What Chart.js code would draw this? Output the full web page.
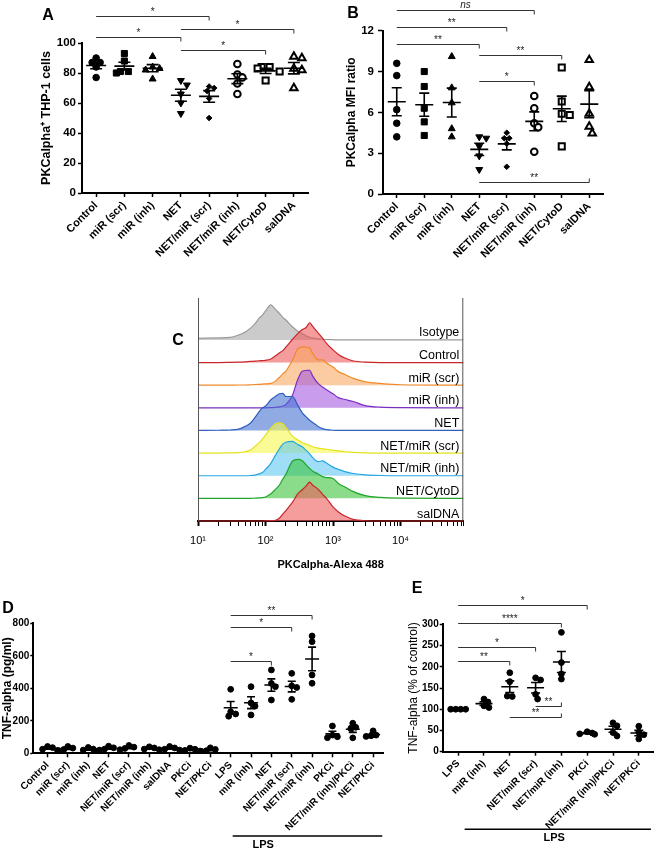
<!DOCTYPE html>
<html>
<head>
<meta charset="utf-8">
<script src="https://cdn.jsdelivr.net/npm/chart.js@4.4.1/dist/chart.umd.min.js"></script>
<style>
    body { margin: 0; background: #fff; }
    #fig { position: relative; width: 658px; height: 848px; overflow: hidden; font-family: 'Liberation Sans', Arial, sans-serif; }
    #fig canvas { position: absolute; }
    .tag { position: absolute; font-weight: bold; font-size: 16px; transform: translate(-50%, -50%); }
</style>
</head>
<body>
<div id="fig">
    <canvas id="chartA" width="320" height="280" style="left:0;top:0"></canvas>
    <canvas id="chartB" width="328" height="280" style="left:330px;top:0"></canvas>
    <canvas id="chartC" width="330" height="290" style="left:150px;top:290px"></canvas>
    <canvas id="chartD" width="400" height="258" style="left:0;top:590px"></canvas>
    <canvas id="chartE" width="253" height="258" style="left:405px;top:590px"></canvas>
    <div class="tag" style="left:48px;top:15px">A</div>
    <div class="tag" style="left:353px;top:13px">B</div>
    <div class="tag" style="left:178px;top:340px">C</div>
    <div class="tag" style="left:8px;top:608px">D</div>
    <div class="tag" style="left:417px;top:588px">E</div>
</div>
<script>
// ---- Panels A and B: PKCalpha in THP-1 cells ----
const abCats = ['Control', 'miR (scr)', 'miR (inh)', 'NET', 'NET/miR (scr)', 'NET/miR (inh)', 'NET/CytoD', 'salDNA'];
const aValues = [
    [90, 87, 87, 84, 77],
    [93, 88, 81, 80, 81],
    [91, 84, 83, 82, 76],
    [75, 72, 66, 60, 53],
    [71, 70, 68, 63, 50],
    [86, 79, 77, 73, 66],
    [84, 84, 83, 81, 75],
    [91, 90, 83, 82, 70]
];
const bValues = [
    [9.6, 8.7, 6.2, 5.2, 4.2],
    [9.0, 7.9, 6.3, 5.3, 4.3],
    [10.1, 7.8, 6.7, 4.8, 4.2],
    [4.2, 4.1, 3.5, 2.8, 1.8],
    [4.5, 4.1, 4.1, 3.7, 2.0],
    [7.2, 6.3, 5.2, 4.9, 3.1],
    [9.3, 6.8, 5.9, 5.8, 3.5],
    [9.85, 7.85, 5.9, 4.95, 4.46]
];
// significance brackets: [from, to, label, level]
const aBrackets = [[0, 4, '*', 118], [0, 3, '*', 103.8], [3, 7, '*', 109], [3, 6, '*', 95.1]];
const bBrackets = [[0, 5, 'ns', 13.53], [0, 4, '**', 12.26], [0, 3, '**', 11.0], [3, 6, '**', 10.22], [3, 5, '*', 8.33], [3, 7, '**', 0.9, 'up']];

// ---- Panel C: flow cytometry histograms ----
const histRows = ['Isotype', 'Control', 'miR (scr)', 'miR (inh)', 'NET', 'NET/miR (scr)', 'NET/miR (inh)', 'NET/CytoD', 'salDNA'];
const histX = [10, 20, 30, 40, 50, 60, 70, 80, 90, 100, 120, 140, 160, 180, 200, 250, 300, 350, 400, 450, 500, 600, 700, 800, 1000, 1200, 1500, 2000, 3000, 5000, 10000, 85000];
const histIsotype = [7, 9, 11, 22, 35, 52, 72, 95, 110, 128, 155, 135, 118, 100, 88, 58, 38, 28, 18, 12, 9, 5, 3, 2, 1, 0, 0, 0, 0, 0, 0, 0];
const histControl = [0, 0, 1, 2, 3, 5, 6, 8, 9, 10, 16, 30, 42, 53, 68, 102, 128, 146, 155, 175, 160, 131, 108, 85, 56, 36, 20, 7, 2, 0, 0, 0];
const histMirScr = [0, 0, 0, 1, 1, 2, 3, 4, 5, 6, 8, 18, 34, 50, 62, 110, 160, 169, 168, 164, 140, 112, 112, 98, 80, 60, 47, 30, 15, 8, 2, 0];
const histMirInh = [0, 0, 0, 0, 0, 0, 0, 0, 0, 0, 1, 2, 4, 8, 15, 55, 125, 162, 165, 166, 140, 108, 92, 80, 62, 45, 37, 28, 10, 3, 1, 0];
const histNet = [0, 1, 2, 6, 18, 33, 58, 82, 100, 108, 136, 150, 162, 164, 150, 150, 112, 78, 60, 45, 35, 18, 8, 4, 1, 0, 0, 0, 0, 0, 0, 0];
const histNetScr = [0, 0, 1, 2, 6, 14, 30, 45, 62, 80, 110, 130, 134, 130, 114, 75, 58, 46, 40, 34, 28, 22, 19, 17, 13, 10, 6, 3, 1, 0, 0, 0];
const histNetInh = [0, 0, 0, 0, 0, 1, 3, 8, 14, 28, 55, 90, 118, 140, 148, 152, 138, 128, 112, 97, 80, 62, 66, 56, 38, 28, 18, 10, 4, 1, 0, 0];
const histNetCyto = [0, 0, 0, 0, 0, 0, 1, 2, 3, 6, 20, 40, 58, 85, 106, 164, 172, 166, 148, 132, 120, 108, 96, 92, 88, 66, 50, 30, 12, 4, 1, 0];
const histSalDna = [0, 0, 0, 0, 0, 0, 0, 0, 0, 1, 2, 3, 12, 30, 46, 82, 120, 138, 155, 172, 158, 141, 118, 100, 62, 40, 22, 7, 1, 0, 0, 0];

// ---- Panel D: TNF-alpha pg/ml ----
const dCats = ['Control', 'miR (scr)', 'miR (inh)', 'NET', 'NET/miR (scr)', 'NET/miR (inh)', 'salDNA', 'PKCi', 'NET/PKCi',
    'LPS', 'miR (inh)', 'NET', 'NET/miR (scr)', 'NET/miR (inh)', 'PKCi', 'NET/miR (inh)/PKCi', 'NET/PKCi'];
const dValues = [
    [42, 35, 25, 18], [42, 32, 24, 16], [36, 26, 20, 15], [44, 34, 26, 20], [48, 38, 30, 22],
    [40, 33, 26, 22], [42, 33, 25, 20], [32, 25, 18, 14], [34, 24, 16, 12],
    [394, 256, 242, 228], [410, 310, 290, 236], [513, 430, 410, 328], [492, 415, 405, 332],
    [722, 687, 482, 431], [168, 112, 102, 96], [185, 160, 152, 95], [138, 112, 108, 104]
];
const dBrackets = [[9, 13, '**', 851], [9, 12, '*', 775], [9, 11, '*', 570]];

// ---- Panel E: TNF-alpha % of control ----
const eCats = ['LPS', 'miR (inh)', 'NET', 'NET/miR (scr)', 'NET/miR (inh)', 'PKCi', 'NET/miR (inh)/PKCi', 'NET/PKCi'];
const eValues = [
    [100, 100, 100, 100], [124, 117, 108, 104], [186, 165, 131, 130], [174, 169, 135, 124],
    [281, 210, 183, 171], [47, 44, 42, 41], [68, 61, 45, 37], [60, 46, 40, 30]
];
const eBrackets = [[0, 5, '*', 345], [0, 4, '****', 302.5], [0, 3, '*', 247], [0, 2, '**', 213.7], [3, 4, '**', 107.7, 'up'], [2, 4, '**', 82.5, 'up']];

const FONT = "'Liberation Sans', Arial, Helvetica, sans-serif";
Chart.defaults.font.family = FONT;
Chart.defaults.color = '#000';
Chart.defaults.animation = false;
Chart.defaults.events = [];
Chart.defaults.plugins.legend.display = false;
Chart.defaults.plugins.tooltip.enabled = false;

// Mean and standard error of one group
function statsOf(arr) {
    const n = arr.length;
    const mean = arr.reduce((a, b) => a + b, 0) / n;
    const sd = Math.sqrt(arr.reduce((a, b) => a + (b - mean) ** 2, 0) / (n - 1));
    return { mean, sem: sd / Math.sqrt(n) };
}

// Spread overlapping points sideways, like a scatter dot plot
const swarmPlugin = {
    id: 'swarm',
    afterDatasetsUpdate(chart) {
        chart.data.datasets.forEach((ds, di) => {
            const els = chart.getDatasetMeta(di).data.slice().sort((a, b) => a.y - b.y);
            const diam = 1.7 * ds.pointRadius;
            const placed = [];
            els.forEach(el => {
                const x0 = el.x;
                let off = 0;
                for (let k = 0; k < 80; k++) {
                    off = k === 0 ? 0 : (k % 2 ? 1 : -1) * Math.ceil(k / 2);
                    if (placed.every(p => Math.hypot(p.x - (x0 + off), p.y - el.y) >= diam)) break;
                }
                el.x = x0 + off;
                el._x0 = x0;
                placed.push(el);
            });
            // centre rows of tied values
            const used = new Set();
            placed.forEach(el => {
                if (used.has(el)) return;
                const row = placed.filter(p => Math.abs(p.y - el.y) < 0.5);
                row.forEach(p => used.add(p));
                if (row.length < 2) return;
                const shift = row.reduce((s, p) => s + (p.x - p._x0), 0) / row.length;
                row.forEach(p => { p.x -= shift; });
            });
        });
    }
};

function meanSemPlugin(meanHalf, capHalf) {
    return {
        id: 'meanSem',
        afterDatasetsDraw(chart) {
            const { ctx, scales: { x, y } } = chart;
            ctx.save();
            ctx.strokeStyle = '#000';
            ctx.lineWidth = 1.6;
            chart.data.datasets.forEach(ds => {
                const { mean, sem } = statsOf(ds.data.map(p => p.y));
                const cx = x.getPixelForValue(ds.data[0].x);
                const ym = y.getPixelForValue(mean);
                const yt = y.getPixelForValue(mean + sem);
                const yb = y.getPixelForValue(mean - sem);
                ctx.beginPath();
                ctx.moveTo(cx - meanHalf, ym); ctx.lineTo(cx + meanHalf, ym);
                ctx.moveTo(cx, yt); ctx.lineTo(cx, yb);
                ctx.moveTo(cx - capHalf, yt); ctx.lineTo(cx + capHalf, yt);
                ctx.moveTo(cx - capHalf, yb); ctx.lineTo(cx + capHalf, yb);
                ctx.stroke();
            });
            ctx.restore();
        }
    };
}

function bracketPlugin(list) {
    return {
        id: 'brackets',
        afterDraw(chart) {
            const { ctx, scales: { x, y } } = chart;
            ctx.save();
            list.forEach(([from, to, text, level, dir]) => {
                const x1 = x.getPixelForValue(from);
                const x2 = x.getPixelForValue(to);
                const yy = Math.round(y.getPixelForValue(level)) + 0.5;
                ctx.strokeStyle = '#333';
                ctx.lineWidth = 1;
                ctx.beginPath();
                ctx.moveTo(x1, yy);
                ctx.lineTo(x2, yy);
                ctx.lineTo(x2, yy + (dir === 'up' ? -4 : 4));
                ctx.stroke();
                ctx.fillStyle = '#222';
                ctx.textAlign = 'center';
                ctx.textBaseline = 'alphabetic';
                ctx.font = (text === 'ns' ? 'italic ' : '') + '10px ' + FONT;
                ctx.fillText(text, (x1 + x2) / 2, yy - (text === 'ns' ? 3 : 1.5));
            });
            ctx.restore();
        }
    };
}

function groupBarPlugin(g) {
    return {
        id: 'groupBar',
        afterDraw(chart) {
            const { ctx, chartArea, scales: { x } } = chart;
            const yy = chartArea.bottom + g.dy;
            ctx.save();
            ctx.strokeStyle = '#000';
            ctx.lineWidth = 1.5;
            ctx.beginPath();
            ctx.moveTo(x.getPixelForValue(g.from), yy);
            ctx.lineTo(x.getPixelForValue(g.to), yy);
            ctx.stroke();
            ctx.font = 'bold 11px ' + FONT;
            ctx.textAlign = 'center';
            ctx.textBaseline = 'middle';
            ctx.fillStyle = '#000';
            ctx.fillText(g.text, x.getPixelForValue(g.textAt), chartArea.bottom + g.textDy);
            ctx.restore();
        }
    };
}

// Build one dot plot with mean +/- SEM
function makeDotPlot(id, cfg) {
    const canvas = document.getElementById(id);
    const W = canvas.width, H = canvas.height, area = cfg.area;
    const plugins = [swarmPlugin, meanSemPlugin(cfg.meanHalf, cfg.capHalf), bracketPlugin(cfg.brackets)];
    if (cfg.group) plugins.push(groupBarPlugin(cfg.group));
    return new Chart(canvas, {
        type: 'scatter',
        data: {
            datasets: cfg.values.map((vals, i) => {
                const st = cfg.styles[i];
                return {
                    data: vals.map(v => ({ x: i, y: v })),
                    pointStyle: st.style,
                    pointRadius: st.r,
                    pointRotation: st.rot || 0,
                    backgroundColor: st.open ? '#fff' : '#000',
                    borderColor: '#000',
                    borderWidth: st.open ? 2 : 1
                };
            })
        },
        options: {
            responsive: false,
            layout: { padding: { left: 0, top: area.top, right: W - area.right, bottom: 0 } },
            scales: {
                x: {
                    type: 'linear', min: cfg.xMin, max: cfg.xMax, bounds: 'data',
                    afterBuildTicks: s => { s.ticks = cfg.cats.map((c, i) => ({ value: i })); },
                    afterFit: s => { s.height = H - area.bottom; },
                    ticks: { autoSkip: false, minRotation: 45, maxRotation: 45, padding: 2, color: '#000',
                        font: { size: cfg.catSize, weight: 'bold' }, callback: v => cfg.cats[v] },
                    grid: { drawOnChartArea: false, tickLength: 4, tickColor: '#000', tickWidth: 1.5 },
                    border: { color: '#000', width: 2 }
                },
                y: {
                    min: cfg.yMin, max: cfg.yMax,
                    afterFit: s => { s.width = area.left; },
                    ticks: { stepSize: cfg.yStep, padding: cfg.yTickPad, color: '#000', font: { size: cfg.tickSize, weight: 'bold' } },
                    grid: { drawOnChartArea: false, tickLength: cfg.yTickLen, tickColor: '#000', tickWidth: 1.5 },
                    border: { color: '#000', width: 2 },
                    title: { display: true, text: cfg.yTitle, color: '#000',
                        font: { size: cfg.titleSize, weight: cfg.titleWeight || 'bold' },
                        padding: { top: cfg.titlePad, bottom: 0 } }
                }
            }
        },
        plugins
    });
}

const abStyles = [
    { style: 'circle', r: 3.3 },
    { style: 'rect', r: 4.3 },
    { style: 'triangle', r: 4 },
    { style: 'triangle', r: 4, rot: 180 },
    { style: 'rectRot', r: 2.8 },
    { style: 'circle', r: 3.3, open: true },
    { style: 'rect', r: 4.3, open: true },
    { style: 'triangle', r: 4.3, open: true }
];
const dotStyle = cats => cats.map(() => ({ style: 'circle', r: 2.9 }));

makeDotPlot('chartA', {
    cats: abCats, values: aValues, styles: abStyles, brackets: aBrackets,
    area: { left: 82, top: 43, right: 308, bottom: 193 },
    xMin: -0.5, xMax: 7.5, yMin: 0, yMax: 100, yStep: 20,
    catSize: 11, tickSize: 11.5, yTickLen: 4, yTickPad: 2,
    yTitle: 'PKCalpha\u207A THP-1 cells', titleSize: 12.5, titlePad: 39,
    meanHalf: 10, capHalf: 6
});

makeDotPlot('chartB', {
    cats: abCats, values: bValues, styles: abStyles, brackets: bBrackets,
    area: { left: 53, top: 30.7, right: 273, bottom: 194 },
    xMin: -0.5, xMax: 7.5, yMin: 0, yMax: 12, yStep: 3,
    catSize: 11, tickSize: 11.5, yTickLen: 5, yTickPad: 4,
    yTitle: 'PKCalpha MFI ratio', titleSize: 12, titlePad: 14.5,
    meanHalf: 9, capHalf: 5
});

makeDotPlot('chartD', {
    cats: dCats, values: dValues, styles: dotStyle(dCats), brackets: dBrackets,
    area: { left: 33.3, top: 33.3, right: 383.3, bottom: 163.3 },
    xMin: -0.7, xMax: 16.5, yMin: 0, yMax: 800, yStep: 200,
    catSize: 10, tickSize: 10, yTickLen: 3, yTickPad: 1,
    yTitle: 'TNF-alpha (pg/ml)', titleSize: 12, titlePad: 0,
    meanHalf: 7, capHalf: 4,
    group: { from: 9.1, to: 16.45, dy: 82.7, text: 'LPS', textAt: 10.6, textDy: 92 }
});

makeDotPlot('chartE', {
    cats: eCats, values: eValues, styles: dotStyle(eCats), brackets: eBrackets,
    area: { left: 37.7, top: 34.3, right: 253, bottom: 161.7 },
    xMin: -0.6, xMax: 7.55, yMin: 0, yMax: 300, yStep: 50,
    catSize: 10, tickSize: 10, yTickLen: 3, yTickPad: 1,
    yTitle: 'TNF-alpha (% of control)', titleSize: 12, titleWeight: 'normal', titlePad: 1,
    meanHalf: 8.5, capHalf: 4.5,
    group: { from: 0.25, to: 7.47, dy: 77.6, text: 'LPS', textAt: 3.72, textDy: 86.6 }
});

// ---- Panel C: stacked histograms on one log axis ----
const histVals = [histIsotype, histControl, histMirScr, histMirInh, histNet, histNetScr, histNetInh, histNetCyto, histSalDna];
const histLine = ['#9a9a9a', '#c8262b', '#f08a2c', '#7a2fc0', '#2f5fbf', '#e2e21a', '#25a6e0', '#22a52a', '#c8262b'];
const histFill = ['rgba(175,175,175,0.65)', 'rgba(238,90,90,0.6)', 'rgba(248,170,100,0.6)', 'rgba(165,90,225,0.6)',
    'rgba(70,115,210,0.6)', 'rgba(248,248,80,0.6)', 'rgba(95,200,240,0.6)', 'rgba(60,195,60,0.6)', 'rgba(238,90,90,0.6)'];
const sup = ['\u2070', '\u00B9', '\u00B2', '\u00B3', '\u2074', '\u2075'];

const cScales = {
    x: {
        type: 'logarithmic', position: 'bottom', min: 10, max: 85000,
        afterBuildTicks: s => {
            s.ticks = s.ticks.filter(t => {
                const m = t.value / Math.pow(10, Math.floor(Math.log10(t.value) + 1e-9));
                return Math.abs(m - 1.5) > 1e-6;
            });
        },
        afterFit: s => { s.height = 59; },
        ticks: {
            autoSkip: false, minRotation: 0, maxRotation: 0, padding: 8, color: '#000', font: { size: 11 },
            callback: v => {
                const e = Math.log10(v);
                return Math.abs(e - Math.round(e)) < 1e-9 ? '10' + sup[Math.round(e)] : '';
            }
        },
        grid: { drawOnChartArea: false, tickLength: 5, tickColor: '#000', tickWidth: c => (c.tick && c.tick.major ? 2 : 1) },
        border: { color: '#000', width: 2 },
        title: { display: true, text: 'PKCalpha-Alexa 488', color: '#000', font: { size: 11, weight: 'bold' }, padding: { top: 0, bottom: 8 } }
    },
    head: { type: 'linear', display: false, position: 'left', stack: 'rows', stackWeight: 0.853, weight: 30, min: 0, max: 100 }
};
histRows.forEach((name, r) => {
    cScales['r' + r] = { type: 'linear', display: false, position: 'left', stack: 'rows', stackWeight: 1, weight: 20 - r, min: 0, max: 100 };
});

const histDecor = {
    id: 'histDecor',
    afterDatasetsDraw(chart) {
        const { ctx, chartArea } = chart;
        ctx.save();
        ctx.strokeStyle = '#555';
        ctx.lineWidth = 1;
        ctx.beginPath();
        ctx.moveTo(chartArea.left + 0.5, chartArea.top);
        ctx.lineTo(chartArea.left + 0.5, chartArea.bottom);
        ctx.moveTo(chartArea.right - 0.5, chartArea.top);
        ctx.lineTo(chartArea.right - 0.5, chartArea.bottom);
        ctx.stroke();
        ctx.font = '12.5px ' + FONT;
        ctx.textAlign = 'right';
        ctx.textBaseline = 'alphabetic';
        ctx.fillStyle = '#000';
        histRows.forEach((name, r) => {
            ctx.fillText(name, chartArea.right - 4, chart.scales['r' + r].bottom - 3.5);
        });
        ctx.restore();
    }
};

new Chart(document.getElementById('chartC'), {
    type: 'line',
    data: {
        datasets: histRows.map((name, r) => ({
            label: name,
            data: histX.map((x, i) => ({ x, y: histVals[r][i] })),
            yAxisID: 'r' + r,
            fill: 'origin',
            clip: false,
            backgroundColor: histFill[r],
            borderColor: histLine[r],
            borderWidth: 1.2,
            pointRadius: 0,
            cubicInterpolationMode: 'monotone',
            order: histRows.length - 1 - r
        }))
    },
    options: {
        responsive: false,
        layout: { padding: { left: 48, top: 8, right: 16.7, bottom: 0 } },
        scales: cScales
    },
    plugins: [histDecor]
});
</script>
</body>
</html>
